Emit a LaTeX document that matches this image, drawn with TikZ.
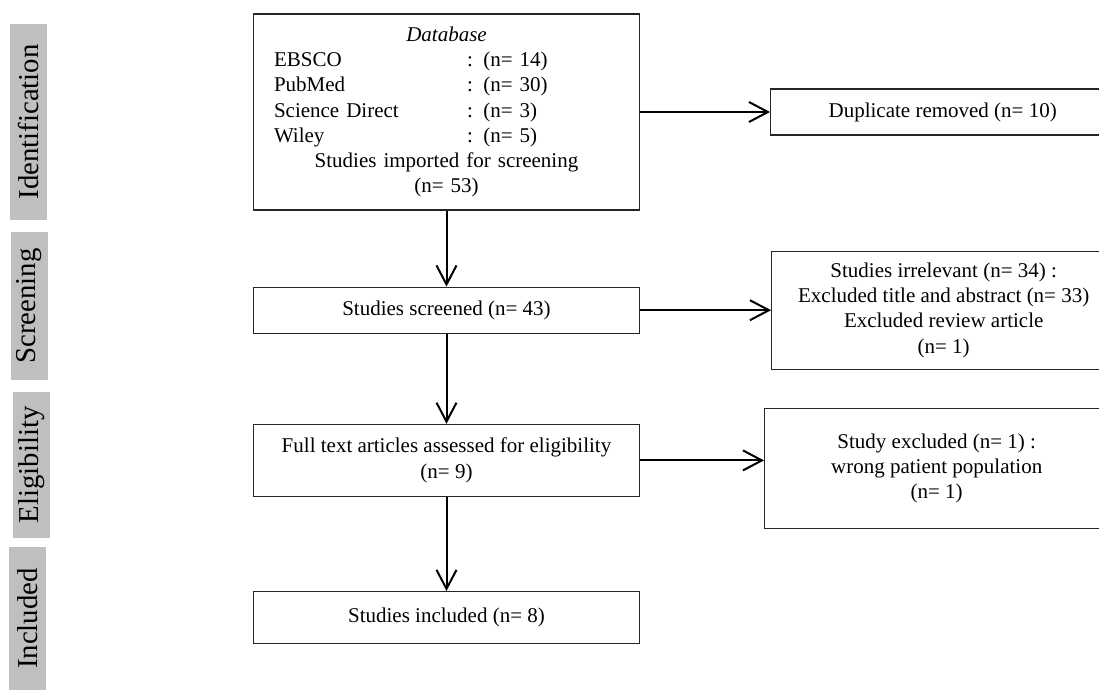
\documentclass[tikz,border=0pt]{standalone}
\usepackage{fontspec}
\setmainfont{Liberation Serif}
\usepackage{tikz}
\usetikzlibrary{arrows.meta,positioning}
\newcommand{\mainsize}{\fontsize{10.5}{12.6}\selectfont}
\newcommand{\phasesize}{\fontsize{14.4}{17}\selectfont}
\newcommand{\dbrow}[2]{\makebox[172.5pt][l]{\makebox[96.5pt][l]{#1}: (n= #2)}}
\tikzset{
  stagebox/.style={rectangle, draw=black!85, line width=0.6pt, align=center, minimum width=193pt},
  sidebox/.style={rectangle, draw=black!85, line width=0.6pt, align=center, minimum width=172pt},
  phase/.style={rectangle, fill=black!25, rotate=90, font=\phasesize, minimum height=18.5pt, inner sep=0pt},
  line/.style={-{Straight Barb[length=9.5pt,width=10pt]}, line width=1pt}
}
\begin{document}
\begin{tikzpicture}[x=0.5pt, y=-0.5pt, font=\mainsize]
  \useasboundingbox (0,0) rectangle (1099,691);
  % phase labels
  \node[phase, minimum width=98pt] (idlab) at (28.5,122) {Identification};
  \node[phase, minimum width=74pt] (scrlab) at (29,306) {Screening};
  \node[phase, minimum width=73pt] (elilab) at (31.5,465) {Eligibility};
  \node[phase, minimum width=71.5pt] (inclab) at (27.5,618.5) {Included};
  % main column
  \node[stagebox, minimum height=98pt, text width=172.5pt, inner xsep=9.5pt] (db) at (446.5,112) {%
    \textit{Database}\\
    \dbrow{EBSCO}{14}\\
    \dbrow{PubMed}{30}\\
    \dbrow{Science Direct}{3}\\
    \dbrow{Wiley}{5}\\
    Studies imported for screening\\
    (n= 53)};
  \node[stagebox, minimum height=23pt, below=38pt of db] (scr) {Studies screened (n= 43)};
  \node[stagebox, minimum height=36pt, below=45pt of scr] (full) {Full text articles assessed for eligibility\\(n= 9)};
  \node[stagebox, minimum height=26pt, below=47pt of full] (incl) {Studies included (n= 8)};
  % exclusions
  \node[sidebox, minimum height=23pt, right=65pt of db] (dup) {Duplicate removed (n= 10)};
  \node[sidebox, minimum height=59pt, right=65.5pt of scr] (irr) {Studies irrelevant (n= 34) :\\Excluded title and abstract (n= 33)\\Excluded review article\\(n= 1)};
  \node[sidebox, minimum height=60pt, right=62pt of full, yshift=-4pt] (excl) {Study excluded (n= 1) :\\wrong patient population\\(n= 1)};
  % arrows
  \draw[line] (db) -- (scr);
  \draw[line] (scr) -- (full);
  \draw[line] (full) -- (incl);
  \draw[line] (db) -- (dup);
  \draw[line] (scr) -- (irr);
  \draw[line] (full.east) -- (full.east -| excl.west);
\end{tikzpicture}
\end{document}
